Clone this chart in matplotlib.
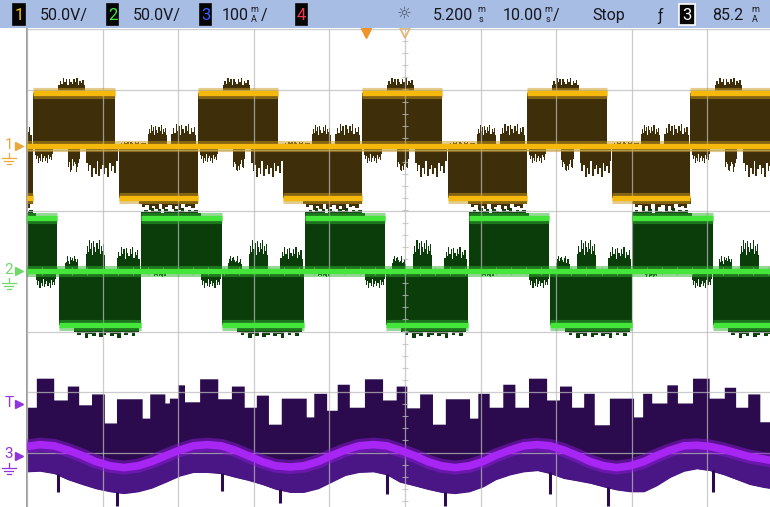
import numpy as np
import matplotlib.pyplot as plt
from matplotlib.patches import Rectangle
from matplotlib.transforms import blended_transform_factory

plt.rcParams['font.family'] = ['Roboto', 'DejaVu Sans']

# scope settings
CH1_SCALE, CH2_SCALE, CH3_SCALE = 50.0, 50.0, 100.0   # V/div, V/div, mA/div
CH1_OFFSET, CH2_OFFSET, CH3_OFFSET = 2.07, 0.0, -3.05  # div
TRIG_DELAY = -5.2   # ms
TRIG_LEVEL = 85.2   # mA

# channel 1: PWM blocks (ms) and polarity
ch1_start = [-59.6, -49.2, -37.8, -27.4, -16.1, -5.7, 5.7, 16.1, 27.4, 37.7]
ch1_end = [-49.2, -38.4, -27.4, -16.8, -5.7, 4.9, 16.1, 26.7, 37.7, 51.0]
ch1_sign = [-1, 1, -1, 1, -1, 1, -1, 1, -1, 1]
ch1_levels = (44.0, -43.0)
# switching bursts per block: (from, to [ms after block start], reference, height [V])
ch1_pos_bursts = [(0.3, 2.6, 'zero', -14), (4.6, 6.2, 'zero', -22),
                  (7.0, 11.2, 'zero', -26), (3.3, 6.9, 'level', 12)]
ch1_neg_bursts = [(0.0, 3.7, 'zero', 3), (3.8, 6.3, 'zero', 17),
                  (6.9, 10.2, 'zero', 18), (2.6, 10.4, 'level', -10)]

# channel 2
ch2_start = [-56.7, -45.8, -34.9, -24.2, -13.2, -2.5, 8.5, 19.2, 30.0, 40.7]
ch2_end = [-46.0, -34.9, -24.2, -13.4, -2.6, 8.3, 19.0, 30.0, 40.7, 51.4]
ch2_sign = [1, -1, 1, -1, 1, -1, 1, -1, 1, -1]
ch2_levels = (44.0, -45.0)
ch2_pos_bursts = [(1.6, 3.4, 'zero', -5), (7.9, 10.6, 'zero', -14), (0.0, 7.9, 'level', 8)]
ch2_neg_bursts = [(0.8, 2.6, 'zero', 12), (3.6, 6.1, 'zero', 26),
                  (7.7, 10.7, 'zero', 20), (2.0, 10.6, 'level', -10)]

# channel 3 (current, mA): stepped upper envelope
ch3_top_t = [-50.0, -48.7, -46.4, -44.6, -43.1, -41.4, -39.7, -38.1, -34.7, -33.7,
             -31.7, -31.1, -30.0, -29.1, -27.1, -24.7, -22.9, -21.2, -19.6, -18.0,
             -16.3, -13.0, -12.0, -10.3, -8.9, -7.3, -5.3, -2.9, -1.1, 0.3,
             2.0, 3.7, 5.4, 8.6, 9.7, 11.2, 13.0, 14.6, 16.4, 18.8,
             20.5, 22.1, 23.7, 25.1, 27.1, 30.3, 31.5, 32.7, 34.7, 36.1,
             38.1, 40.3, 42.3, 43.8, 45.4, 47.0]
ch3_top = [79, 127, 91, 114, 83, 101, 53, 93, 61, 101,
           86, 94, 116, 88, 126, 93, 114, 79, 99, 51,
           94, 63, 102, 74, 117, 79, 126, 91, 114, 78,
           101, 51, 93, 61, 102, 79, 117, 79, 127, 91,
           114, 79, 102, 50, 94, 63, 102, 86, 116, 86,
           127, 94, 112, 79, 101, 55]
# averaged trace and lower envelope
ch3_t = [-50.0, -48.3, -46.4, -44.6, -42.7, -40.9, -39.0, -37.2, -35.3, -33.5,
         -31.6, -29.8, -28.0, -26.2, -24.3, -22.5, -20.8, -18.9, -17.1, -15.2,
         -13.4, -11.5, -9.7, -7.9, -6.1, -4.2, -2.4, -0.7, 1.2, 3.0,
         4.8, 6.6, 8.5, 10.3, 12.0, 13.9, 15.7, 17.5, 19.2, 21.0,
         22.8, 24.5, 26.3, 28.0, 29.8, 31.6, 33.3, 35.1, 36.9, 38.6,
         40.3, 42.2, 43.9, 45.6, 47.5, 49.2]
ch3_avg = [15, 18, 16, 9, 0, -10, -17, -20, -17, -10,
           0, 9, 16, 18, 16, 9, 0, -10, -17, -19,
           -17, -10, 0, 9, 16, 18, 16, 9, 0, -10,
           -17, -20, -17, -10, 0, 9, 16, 18, 16, 9,
           0, -10, -17, -20, -17, -10, 0, 9, 16, 17,
           15, 10, 4, -2, -6, -10]
ch3_low = [-27, -26, -30, -40, -48, -55, -60, -63, -60, -54,
           -44, -34, -28, -28, -30, -36, -41, -48, -56, -61,
           -61, -55, -44, -33, -28, -27, -32, -44, -50, -56,
           -61, -63, -60, -52, -40, -32, -27, -25, -30, -38,
           -42, -46, -52, -57, -60, -60, -50, -36, -26, -22,
           -25, -32, -40, -48, -53, -56]
ch3_spike_t = [-45.9, -38.1, -24.2, -16.5, -2.4, 5.3, 19.2, 26.9, 40.7]
ch3_spike = [-61, -83, -58, -79, -63, -83, -63, -83, -61]

# ragged top of a switching burst
JAG = [0.55, 0.8, 0.6, 1.0, 0.7, 0.9, 0.5, 0.95, 0.75, 0.6, 0.9, 0.7,
       1.0, 0.55, 0.8, 0.65, 0.85, 0.5]

fig = plt.figure(figsize=(7.7, 5.07), dpi=100)
ax = fig.add_axes([27 / 770, -6 / 507, 756 / 770, 484 / 507])
ax.set_xlim(-50, 50)
ax.set_ylim(-4, 4)


def draw_pwm(starts, ends, signs, levels, scale, off, bursts, dark, glow, bright):
    div = lambda v: off + np.asarray(v, dtype=float) / scale
    for s, e, sg in zip(starts, ends, signs):
        lvl = levels[0] if sg > 0 else levels[1]
        ax.fill_between([s, e], div(0), div(lvl), color=dark, lw=0, zorder=2)
        for r0, r1, ref, h in bursts[0 if sg > 0 else 1]:
            base = 0.0 if ref == 'zero' else lvl
            edges = np.linspace(s + r0, s + r1, len(JAG) + 1)
            top = base + h * np.array(JAG)
            ax.fill_between(edges, div(base), div(np.append(top, top[-1])),
                            step='post', color=dark, lw=0, zorder=2)
        ax.plot([s, e], [div(lvl)] * 2, color=glow, lw=8, alpha=0.5,
                solid_capstyle='butt', zorder=3)
        ax.plot([s, e], [div(lvl)] * 2, color=bright, lw=3.8,
                solid_capstyle='butt', zorder=3)
    ax.plot([-50, 50], [off, off], color=glow, lw=8, alpha=0.5, zorder=3)
    ax.plot([-50, 50], [off, off], color=bright, lw=3.8, zorder=3)


draw_pwm(ch1_start, ch1_end, ch1_sign, ch1_levels, CH1_SCALE, CH1_OFFSET,
         (ch1_pos_bursts, ch1_neg_bursts), '#3e2f0a', '#c99a1c', '#f4b90c')
draw_pwm(ch2_start, ch2_end, ch2_sign, ch2_levels, CH2_SCALE, CH2_OFFSET,
         (ch2_pos_bursts, ch2_neg_bursts), '#0b3d0b', '#2fae2f', '#44e63a')

# channel 3
i3 = lambda v: CH3_OFFSET + np.asarray(v, dtype=float) / CH3_SCALE
edges = np.append(ch3_top_t, 51.0)
xs = np.repeat(edges, 2)[1:-1]
ys = np.repeat(ch3_top, 2)
ax.fill(np.concatenate([xs, ch3_t[::-1]]), i3(np.concatenate([ys, ch3_low[::-1]])),
        color='#2b0b4d', lw=0, zorder=2)
ax.fill_between(ch3_t, i3(ch3_avg), i3(ch3_low), color='#4a1584', lw=0, zorder=2)
ax.vlines(ch3_spike_t, i3(np.interp(ch3_spike_t, ch3_t, ch3_low)) + 0.02, i3(ch3_spike),
          color='#2b0b4d', lw=2.2, zorder=2)
ax.plot(ch3_t, i3(ch3_avg), color='#8a1ad8', lw=10, alpha=0.5, zorder=3)
ax.plot(ch3_t, i3(ch3_avg), color='#a826f4', lw=5.5, zorder=3)

# graticule
ax.set_xticks(np.arange(-50, 51, 10))
ax.set_yticks(np.arange(-4, 5, 1))
ax.tick_params(length=0, labelbottom=False, labelleft=False)
ax.grid(True, color='#bcbcbc', lw=0.9, alpha=0.75)
ax.set_axisbelow(False)
ax.hlines(np.arange(-4, 4.01, 0.2), -0.45, 0.45, color='#bcbcbc', lw=0.8, alpha=0.75, zorder=2.5)
ax.vlines(np.arange(-50, 50.1, 2), -0.06, 0.06, color='#bcbcbc', lw=0.8, alpha=0.75, zorder=2.5)
for side in ['top', 'right', 'bottom']:
    ax.spines[side].set_visible(False)
ax.spines['left'].set_color('#8a8a8a')
ax.spines['left'].set_linewidth(1.2)

# channel / trigger markers in the left margin
tr = blended_transform_factory(ax.transAxes, ax.transData)
markers = [('1', CH1_OFFSET, '#eaa83a', True), ('2', CH2_OFFSET, '#6ed86a', True),
           ('T', CH3_OFFSET + TRIG_LEVEL / CH3_SCALE, '#9233e0', False),
           ('3', CH3_OFFSET, '#9233e0', True)]
for lab, yv, c, gnd in markers:
    ax.text(-0.024, yv + 0.02, lab, transform=tr, color=c, fontsize=11,
            ha='center', va='center', clip_on=False)
    ax.plot([-0.011], [yv], marker='>', ms=5.5, color=c, transform=tr, clip_on=False)
    if gnd:
        for k, w in enumerate([0.009, 0.006, 0.003]):
            ax.plot([-0.024 - w, -0.024 + w], [yv - 0.2 - 0.05 * k] * 2, color=c,
                    lw=0.9, transform=tr, clip_on=False)
        ax.plot([-0.024, -0.024], [yv - 0.12, yv - 0.2], color=c, lw=0.9,
                transform=tr, clip_on=False)

ax.plot([TRIG_DELAY], [3.93], marker='v', ms=7, color='#f0922a', clip_on=False, zorder=6)
ax.plot([0], [3.93], marker='v', ms=7, mfc='none', mec='#e6b46a', mew=1.2,
        clip_on=False, zorder=6)

# status bar
hx = fig.add_axes([0, 1 - 28 / 507, 1, 28 / 507])
hx.set_xlim(0, 770)
hx.set_ylim(28, 0)
hx.axis('off')
hx.add_patch(Rectangle((0, 0), 770, 28, color='#a8bde4'))
TXT = '#16161e'
FS = 11.5


def badge(x0, x1, s, c, edge=None):
    hx.add_patch(Rectangle((x0, 4), x1 - x0, 21, fc='#060606',
                           ec=edge if edge else '#060606', lw=1.2))
    hx.text((x0 + x1) / 2, 15, s, color=c, fontsize=12, ha='center', va='center')


def stacked(x, top, bottom):
    hx.text(x, 10, top, color=TXT, fontsize=6.5, ha='center', va='center')
    hx.text(x, 19, bottom, color=TXT, fontsize=6.5, ha='center', va='center')


badge(13, 25, '1', '#f2c21a')
hx.text(40, 15.5, '50.0V/', color=TXT, fontsize=FS, va='center')
badge(107, 118, '2', '#3fe83f')
hx.text(133, 15.5, '50.0V/', color=TXT, fontsize=FS, va='center')
badge(200, 211, '3', '#3f5cff')
hx.text(222, 15.5, '100', color=TXT, fontsize=FS, va='center')
stacked(254, 'm', 'A')
hx.text(261, 15.5, '/', color=TXT, fontsize=FS, va='center')
badge(296, 307, '4', '#ee3856')
hx.text(404, 14.5, '☼', color='#505a70', fontsize=12, ha='center', va='center')
hx.text(433, 15.5, '5.200', color=TXT, fontsize=FS, va='center')
stacked(481, 'm', 's')
hx.text(503, 15.5, '10.00', color=TXT, fontsize=FS, va='center')
stacked(548, 'm', 's')
hx.text(553, 15.5, '/', color=TXT, fontsize=FS, va='center')
hx.text(592, 15.5, 'Stop', color=TXT, fontsize=FS, va='center')
hx.text(660, 15.5, 'ƒ', color=TXT, fontsize=FS, ha='center', va='center')
badge(679, 695, '3', '#ffffff', edge='#ffffff')
hx.text(712, 15.5, '85.2', color=TXT, fontsize=FS, va='center')
stacked(755, 'm', 'A')

fig.savefig('out.png', dpi=100)
